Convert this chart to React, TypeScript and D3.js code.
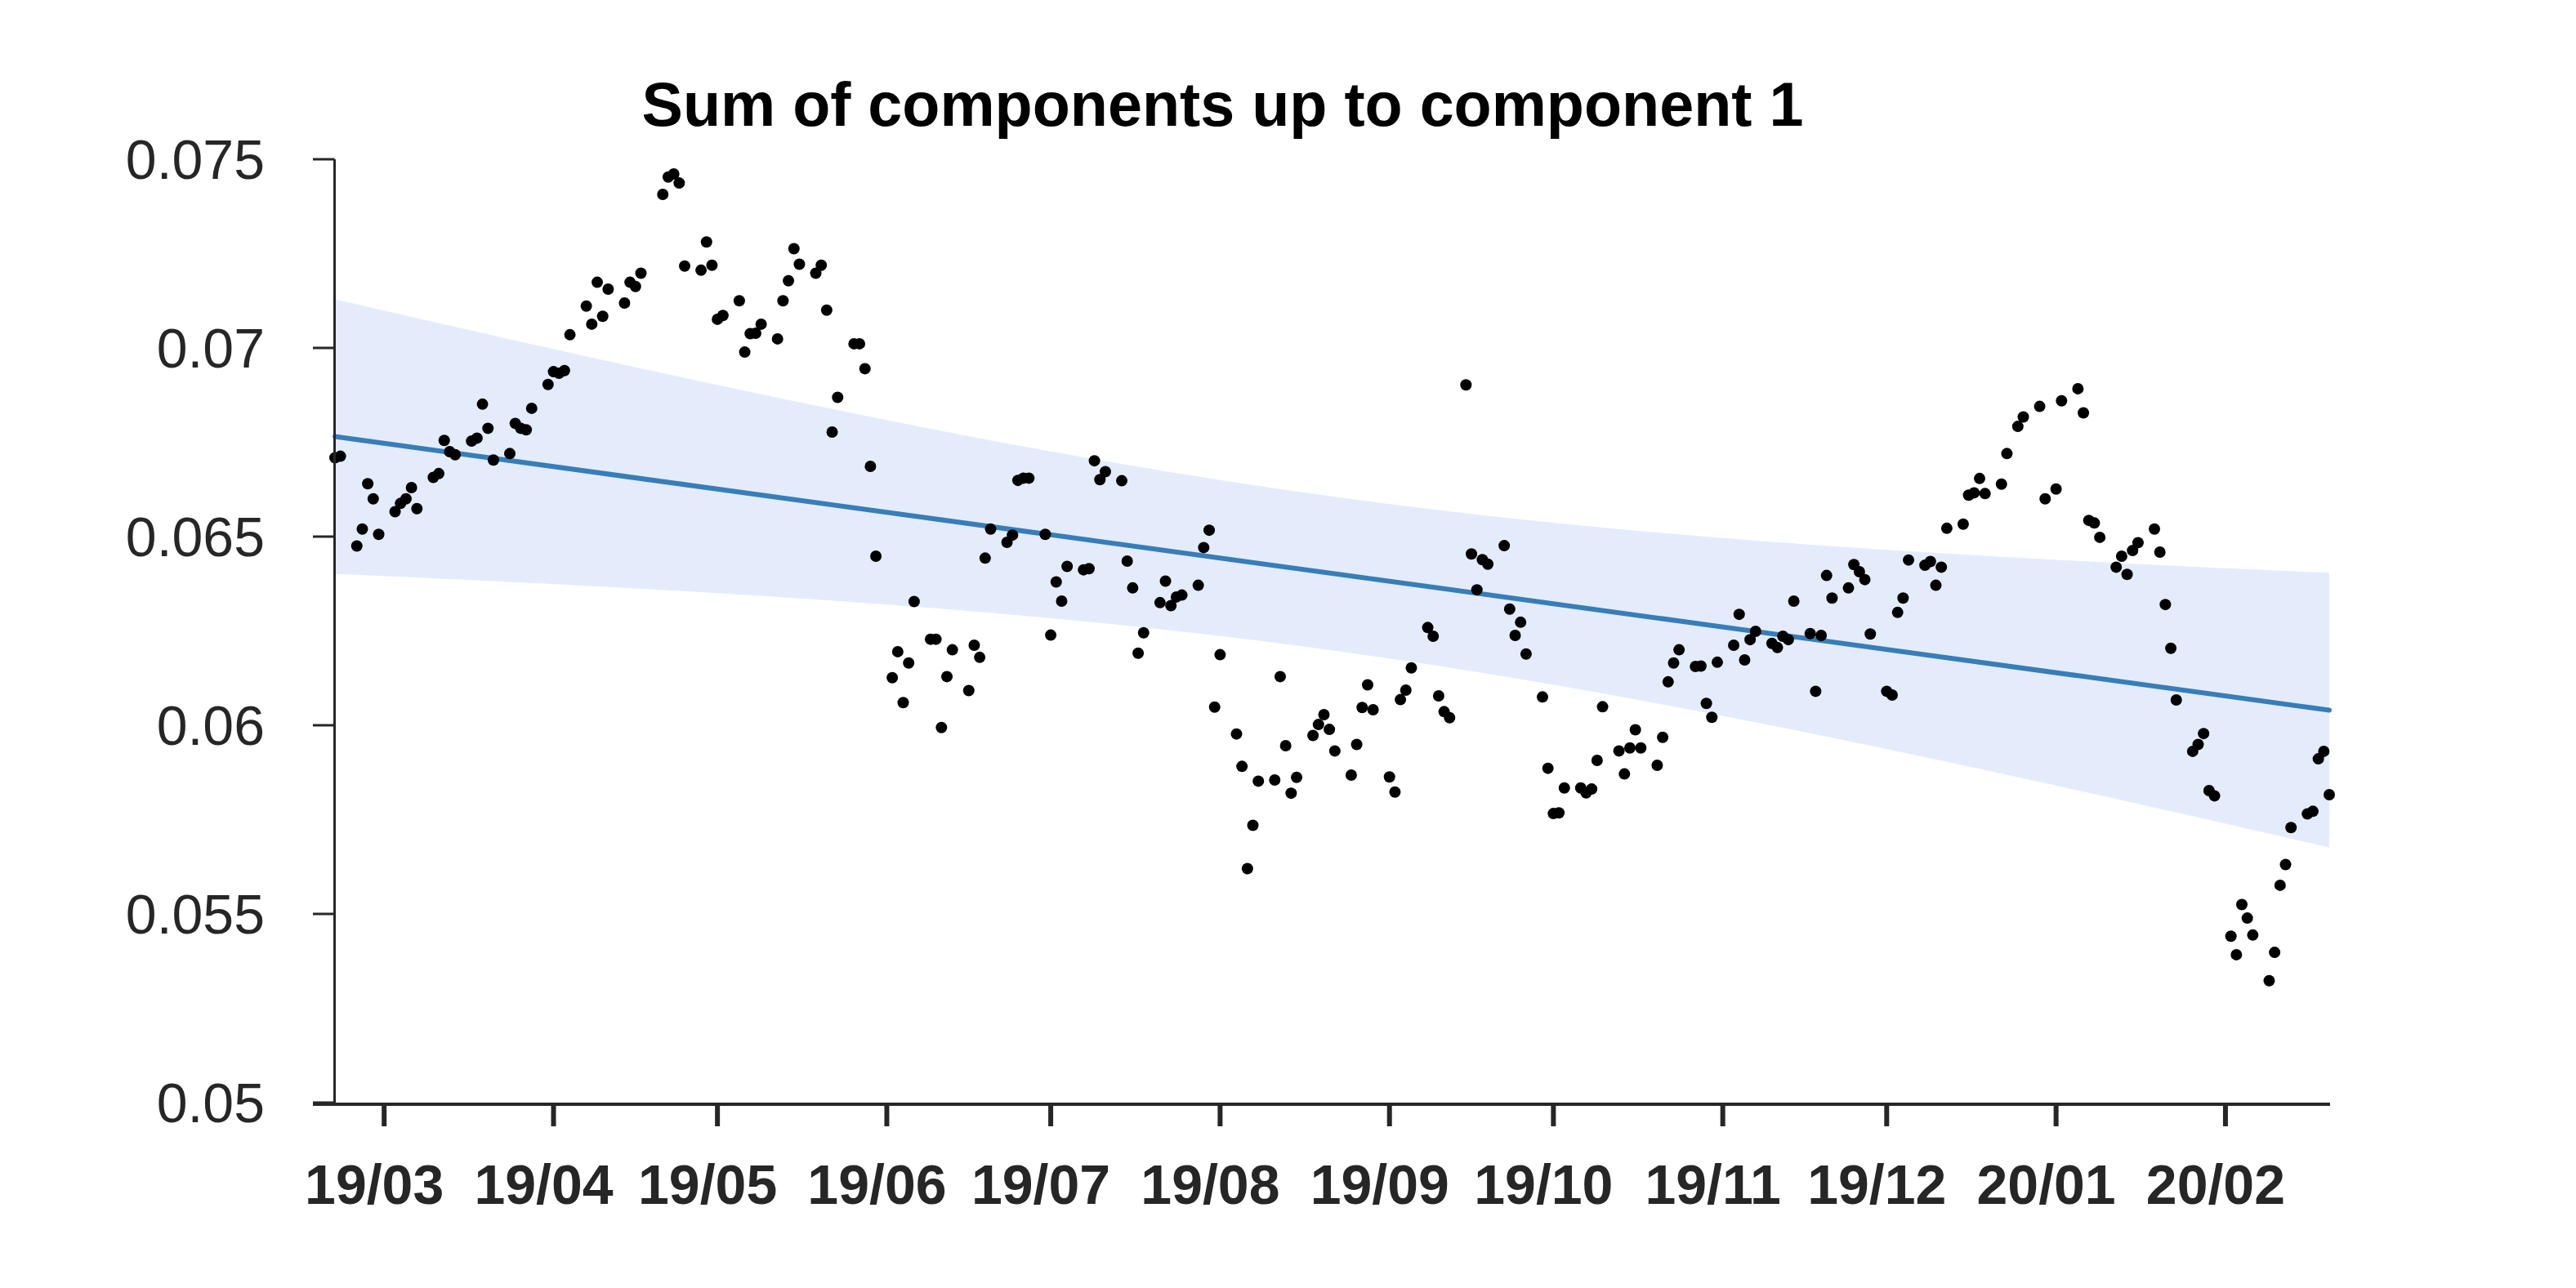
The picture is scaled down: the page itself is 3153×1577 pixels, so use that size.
import React from "react";
import * as d3 from "d3";

// ---------- data ----------
const TITLE = "Sum of components up to component 1";

// Observations are plotted on a 5-day week grid (slot 0..4), weeks starting on this date.
const firstWeekStart = "2019-02-17";

// one row per week, five slots per row, null = no observation
const weeklyValues: (number | null)[][] = [
  [null, null, null, 0.06709, 0.06713],
  [0.06475, 0.0652, 0.0664, 0.066, 0.06506],
  [0.06566, 0.06588, 0.066, 0.0663, 0.06574],
  [0.06657, 0.06667, 0.06755, 0.06725, 0.06717],
  [0.06753, 0.06761, 0.06851, 0.06787, 0.06703],
  [0.0672, 0.068, 0.06787, 0.06783, 0.0684],
  [0.06903, 0.06937, 0.06933, 0.0694, 0.07035],
  [0.07111, 0.07063, 0.07174, 0.07084, 0.07156],
  [0.07119, 0.07174, 0.07163, 0.07198, null],
  [0.07407, 0.07453, 0.07461, 0.07437, 0.07217],
  [0.07206, 0.07281, 0.07219, 0.07076, 0.07086],
  [0.07125, 0.06989, 0.07038, 0.07039, 0.07063],
  [0.07024, 0.07125, 0.07178, 0.07263, 0.07222],
  [0.07198, 0.07219, 0.071, 0.06777, 0.06869],
  [0.07011, 0.07011, 0.06945, 0.06686, 0.06448],
  [0.06126, 0.06195, 0.0606, 0.06165, 0.06328],
  [0.06228, 0.06228, 0.05994, 0.06129, 0.062],
  [0.06092, 0.06212, 0.0618, 0.06443, 0.0652],
  [0.06485, 0.06504, 0.06649, 0.06655, 0.06655],
  [0.06506, 0.06239, 0.0638, 0.06329, 0.06421],
  [0.06412, 0.06415, 0.06701, 0.06651, 0.06672],
  [0.06648, 0.06435, 0.06364, 0.06191, 0.06245],
  [0.06325, 0.06382, 0.06317, 0.0634, 0.06345],
  [0.06371, 0.06471, 0.06517, 0.06048, 0.06187],
  [0.05977, 0.05891, 0.0562, 0.05735, 0.05852],
  [0.05855, 0.06129, 0.05946, 0.0582, 0.05862],
  [0.05973, 0.06002, 0.06028, 0.05989, 0.05932],
  [0.05868, 0.05949, 0.06047, 0.06107, 0.06041],
  [0.05863, 0.05823, 0.06068, 0.06093, 0.06152],
  [0.06259, 0.06236, 0.06078, 0.06036, 0.0602],
  [0.06902, 0.06454, 0.06359, 0.06439, 0.06427],
  [0.06476, 0.06308, 0.06238, 0.06273, 0.06189],
  [0.06075, 0.05886, 0.05766, 0.05768, 0.05834],
  [0.05834, 0.05821, 0.05831, 0.05907, 0.06049],
  [0.05932, 0.05871, 0.0594, 0.05988, 0.0594],
  [0.05894, 0.05968, 0.06115, 0.06165, 0.062],
  [0.06156, 0.06157, 0.06058, 0.06021, 0.06167],
  [0.06212, 0.06294, 0.06173, 0.06227, 0.06249],
  [0.06217, 0.06206, 0.06236, 0.06227, 0.06329],
  [0.06243, 0.0609, 0.06238, 0.06397, 0.06337],
  [0.06364, 0.06426, 0.06407, 0.06386, 0.06242],
  [0.0609, 0.0608, 0.06299, 0.06337, 0.06438],
  [0.06424, 0.06434, 0.06371, 0.06419, 0.06522],
  [0.06533, 0.0661, 0.06616, 0.06654, 0.06614],
  [0.06639, 0.0672, null, 0.06792, 0.06817],
  [0.06845, 0.066, null, 0.06626, 0.0686],
  [0.06892, 0.06828, 0.06543, 0.06536, 0.06498],
  [0.06419, 0.06448, 0.064, 0.06463, 0.06484],
  [0.0652, 0.06459, 0.0632, 0.06204, 0.06067],
  [0.05931, 0.05949, 0.05978, 0.05827, 0.05813],
  [0.05441, 0.05392, 0.05525, 0.05489, 0.05444],
  [0.05323, 0.05398, 0.05576, 0.05631, 0.05729],
  [0.05765, 0.05772, 0.05911, 0.05931, 0.05816],
];

const xDomainDates = ["2019-02-20", "2020-02-20"];
const yDomain = [0.05, 0.075];
const yTickValues = [0.05, 0.055, 0.06, 0.065, 0.07, 0.075];
const yTickLabels = ["0.05", "0.055", "0.06", "0.065", "0.07", "0.075"];

// linear trend and its confidence band
const trendAtStart = 0.06765;
const trendAtEnd = 0.0604;
const bandHalfAtCentre = 0.00204;
const bandHalfAtEnds = 0.00364;

// ---------- layout ----------
const W = 3153;
const H = 1577;
const M = { left: 410, right: 2851, top: 195, bottom: 1350 };
const FONT = "'Liberation Sans', Arial, Helvetica, sans-serif";
const AXIS = "#262626";

const DAY = 86400000;
const parse = (s: string) => new Date(s + "T00:00:00Z");

export default function App() {
  const weekStart = parse(firstWeekStart).getTime();
  const points: { date: Date; value: number }[] = [];
  weeklyValues.forEach((row, w) => {
    row.forEach((v, s) => {
      if (v === null) return;
      points.push({ date: new Date(weekStart + (w * 7 + s) * DAY), value: v });
    });
  });

  const d0 = parse(xDomainDates[0]);
  const d1 = parse(xDomainDates[1]);
  const x = d3.scaleUtc().domain([d0, d1]).range([M.left, M.right]);
  const y = d3.scaleLinear().domain(yDomain).range([M.bottom, M.top]);

  const t0 = d0.getTime();
  const t1 = d1.getTime();
  const tm = (t0 + t1) / 2;
  const half = (t1 - t0) / 2;
  const trend = (t: number) => trendAtStart + ((trendAtEnd - trendAtStart) * (t - t0)) / (t1 - t0);
  const hw = (t: number) => {
    const u = (t - tm) / half;
    return Math.sqrt(bandHalfAtCentre ** 2 + (bandHalfAtEnds ** 2 - bandHalfAtCentre ** 2) * u * u);
  };
  const samples = d3.range(0, 201).map((i) => t0 + ((t1 - t0) * i) / 200);
  const area = d3
    .area<number>()
    .x((t) => x(new Date(t)))
    .y0((t) => y(trend(t) - hw(t)))
    .y1((t) => y(trend(t) + hw(t)));
  const line = d3
    .line<number>()
    .x((t) => x(new Date(t)))
    .y((t) => y(trend(t)));

  const monthTicks = d3.utcMonth.range(d3.utcMonth.ceil(d0), d1);
  const fmt = d3.utcFormat("%y/%m");

  const yAxisX = M.left - 0.5;
  const xAxisY = M.bottom + 2;

  return (
    <svg
      width={W}
      height={H}
      viewBox={`0 0 ${W} ${H}`}
      style={{ position: "absolute", left: 0, top: 0, background: "#fff" }}
      fontFamily={FONT}
    >
      <rect x={0} y={0} width={W} height={H} fill="#fff" />
      <path d={area(samples) || ""} fill="#e4ecfc" stroke="none" />
      <path d={line([t0, t1]) || ""} fill="none" stroke="#377eb8" strokeWidth={6} strokeLinecap="round" />
      {points.map((p, i) => (
        <circle key={i} cx={x(p.date)} cy={y(p.value)} r={7} fill="#000" />
      ))}

      {/* y axis */}
      <line x1={yAxisX} x2={yAxisX} y1={M.top} y2={xAxisY} stroke={AXIS} strokeWidth={3} />
      {yTickValues.map((v, i) => (
        <g key={v}>
          <line x1={383} x2={yAxisX} y1={y(v)} y2={y(v)} stroke={AXIS} strokeWidth={3} />
          <text x={324} y={y(v) + 24} textAnchor="end" fontSize={68} fill={AXIS}>
            {yTickLabels[i]}
          </text>
        </g>
      ))}

      {/* x axis */}
      <line x1={383} x2={M.right + 1} y1={xAxisY} y2={xAxisY} stroke={AXIS} strokeWidth={4} />
      {monthTicks.map((m) => (
        <g key={m.getTime()}>
          <line x1={x(m)} x2={x(m)} y1={xAxisY} y2={1379} stroke={AXIS} strokeWidth={6} />
          <text x={x(m) - 12} y={1474} textAnchor="middle" fontSize={68} fontWeight="bold" fill={AXIS}>
            {fmt(m)}
          </text>
        </g>
      ))}

      <text x={1496.5} y={154} textAnchor="middle" fontSize={75.5} fontWeight="bold" fill="#000">
        {TITLE}
      </text>
    </svg>
  );
}
